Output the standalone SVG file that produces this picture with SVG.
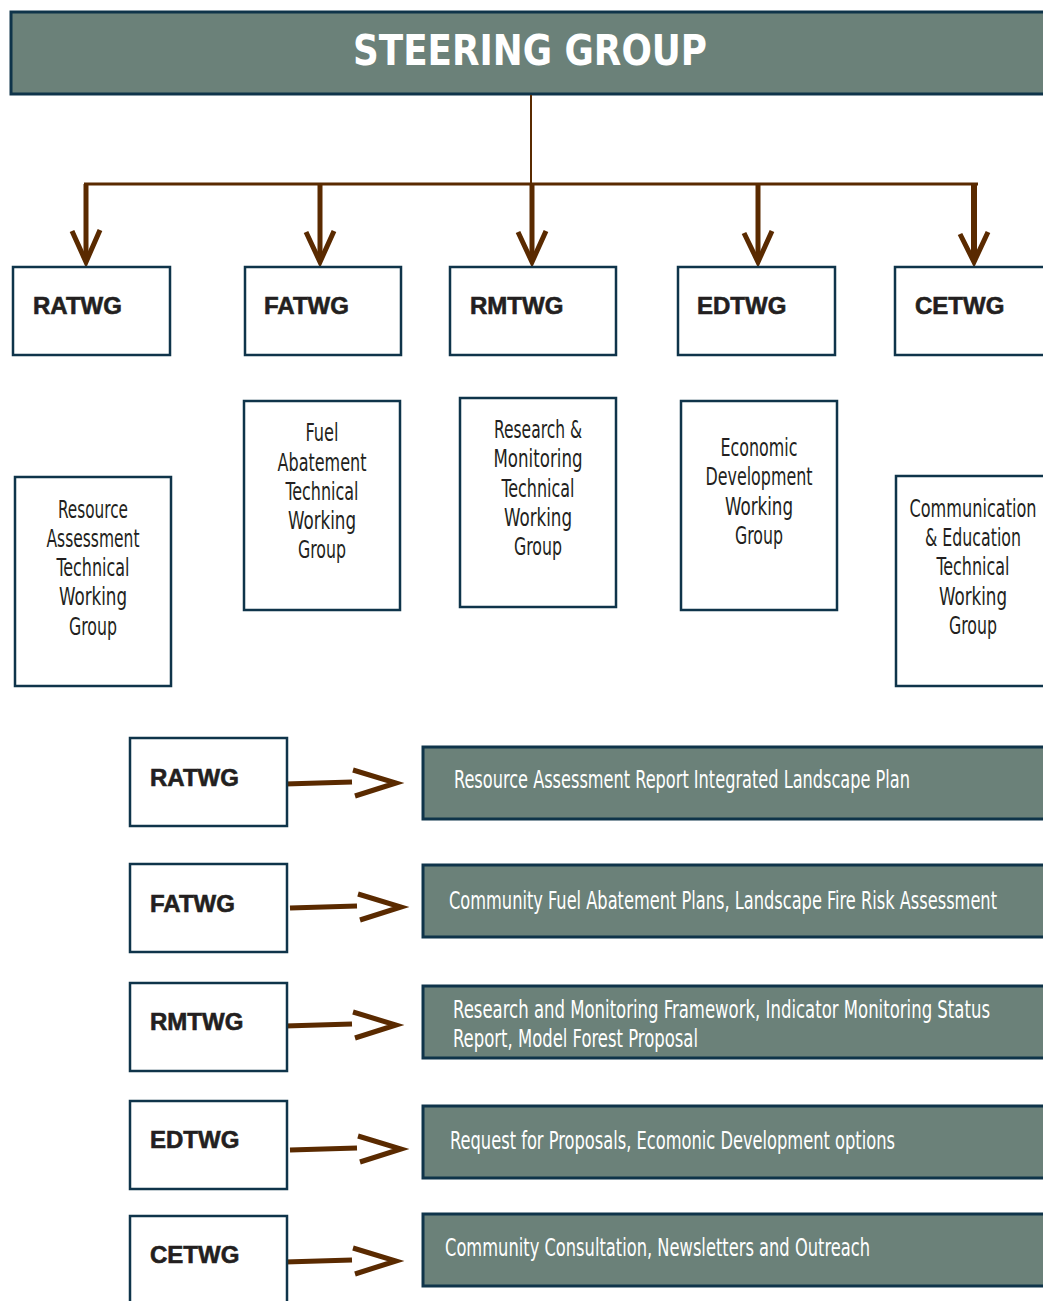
<svg xmlns="http://www.w3.org/2000/svg" width="1043" height="1301" viewBox="0 0 1043 1301">
<style>
.box{fill:#fff;stroke:#0f344a;stroke-width:2.5}
.gbox{fill:#6b8179;stroke:#0f344a;stroke-width:3}
.abbr{font-family:"Liberation Sans",Arial,sans-serif;font-weight:bold;font-size:24px;fill:#231f20;stroke:#231f20;stroke-width:0.6}
.cond{font-family:"Liberation Sans Narrow","DejaVu Sans Condensed","Liberation Sans",sans-serif;font-size:24px;fill:#231f20}
.mid{text-anchor:middle}
.wt{fill:#ffffff}
.conn{fill:none;stroke:#5a2a00;stroke-linecap:butt;stroke-linejoin:miter}
</style>
<rect width="1043" height="1301" fill="#fff"/>
<g id="steering">
<rect class="gbox" x="11" y="12" width="1040" height="82"/>
<text x="530" y="65" text-anchor="middle" font-family="'Liberation Sans Narrow','DejaVu Sans Condensed','Liberation Sans',sans-serif" font-weight="bold" font-size="42" fill="#fff" textLength="354" lengthAdjust="spacingAndGlyphs">STEERING GROUP</text>
</g>
<g id="connectors">
<line class="conn" x1="531" y1="95" x2="531" y2="184" stroke-width="2"/>
<line class="conn" x1="84" y1="184" x2="978" y2="184" stroke-width="3"/>
<g stroke-width="5">
<line class="conn" x1="86" y1="184" x2="86" y2="260"/>
<polyline class="conn" points="72,231 86,262 100,230"/>
<line class="conn" x1="320" y1="184" x2="320" y2="260"/>
<polyline class="conn" points="306,232 320,262 334,231"/>
<line class="conn" x1="532" y1="184" x2="532" y2="260"/>
<polyline class="conn" points="518,232 532,262 546,231"/>
<line class="conn" x1="758" y1="184" x2="758" y2="260"/>
<polyline class="conn" points="744,233 758,262 772,231"/>
<line class="conn" x1="974" y1="184" x2="974" y2="260" stroke-width="6"/>
<polyline class="conn" points="960,234 974,262 988,232"/>
<line class="conn" x1="285" y1="784" x2="352" y2="782"/>
<polyline class="conn" points="353,770 396,783 355,796"/>
<line class="conn" x1="290" y1="908" x2="357" y2="906"/>
<polyline class="conn" points="358,894 401,907 360,920"/>
<line class="conn" x1="285" y1="1026" x2="352" y2="1024"/>
<polyline class="conn" points="353,1012 396,1025 355,1038"/>
<line class="conn" x1="290" y1="1150" x2="357" y2="1148"/>
<polyline class="conn" points="358,1136 401,1149 360,1162"/>
<line class="conn" x1="285" y1="1262" x2="352" y2="1260"/>
<polyline class="conn" points="353,1248 396,1261 355,1274"/>
</g>
</g>
<g id="ratwg-top"><rect class="box" x="13" y="267" width="157" height="88"/><text class="abbr" x="33" y="314">RATWG</text></g>
<g id="fatwg-top"><rect class="box" x="245" y="267" width="156" height="88"/><text class="abbr" x="264" y="314">FATWG</text></g>
<g id="rmtwg-top"><rect class="box" x="450" y="267" width="166" height="88"/><text class="abbr" x="470" y="314">RMTWG</text></g>
<g id="edtwg-top"><rect class="box" x="678" y="267" width="157" height="88"/><text class="abbr" x="697" y="314">EDTWG</text></g>
<g id="cetwg-top"><rect class="box" x="895" y="267" width="160" height="88"/><text class="abbr" x="915" y="314">CETWG</text></g>
<g id="ratwg-desc"><rect class="box" x="15" y="477" width="156" height="209"/>
<text class="cond mid" x="93" y="518" textLength="70" lengthAdjust="spacingAndGlyphs">Resource</text>
<text class="cond mid" x="93" y="547" textLength="93" lengthAdjust="spacingAndGlyphs">Assessment</text>
<text class="cond mid" x="93" y="576" textLength="73" lengthAdjust="spacingAndGlyphs">Technical</text>
<text class="cond mid" x="93" y="605" textLength="68" lengthAdjust="spacingAndGlyphs">Working</text>
<text class="cond mid" x="93" y="635" textLength="48" lengthAdjust="spacingAndGlyphs">Group</text>
</g>
<g id="fatwg-desc"><rect class="box" x="244" y="401" width="156" height="209"/>
<text class="cond mid" x="322" y="441" textLength="33" lengthAdjust="spacingAndGlyphs">Fuel</text>
<text class="cond mid" x="322" y="471" textLength="89" lengthAdjust="spacingAndGlyphs">Abatement</text>
<text class="cond mid" x="322" y="500" textLength="73" lengthAdjust="spacingAndGlyphs">Technical</text>
<text class="cond mid" x="322" y="529" textLength="68" lengthAdjust="spacingAndGlyphs">Working</text>
<text class="cond mid" x="322" y="558" textLength="48" lengthAdjust="spacingAndGlyphs">Group</text>
</g>
<g id="rmtwg-desc"><rect class="box" x="460" y="398" width="156" height="209"/>
<text class="cond mid" x="538" y="438" textLength="88" lengthAdjust="spacingAndGlyphs">Research &amp;</text>
<text class="cond mid" x="538" y="467" textLength="89" lengthAdjust="spacingAndGlyphs">Monitoring</text>
<text class="cond mid" x="538" y="497" textLength="73" lengthAdjust="spacingAndGlyphs">Technical</text>
<text class="cond mid" x="538" y="526" textLength="68" lengthAdjust="spacingAndGlyphs">Working</text>
<text class="cond mid" x="538" y="555" textLength="48" lengthAdjust="spacingAndGlyphs">Group</text>
</g>
<g id="edtwg-desc"><rect class="box" x="681" y="401" width="156" height="209"/>
<text class="cond mid" x="759" y="456" textLength="77" lengthAdjust="spacingAndGlyphs">Economic</text>
<text class="cond mid" x="759" y="485" textLength="107" lengthAdjust="spacingAndGlyphs">Development</text>
<text class="cond mid" x="759" y="515" textLength="68" lengthAdjust="spacingAndGlyphs">Working</text>
<text class="cond mid" x="759" y="544" textLength="48" lengthAdjust="spacingAndGlyphs">Group</text>
</g>
<g id="cetwg-desc"><rect class="box" x="896" y="476" width="160" height="210"/>
<text class="cond mid" x="973" y="517" textLength="127" lengthAdjust="spacingAndGlyphs">Communication</text>
<text class="cond mid" x="973" y="546" textLength="96" lengthAdjust="spacingAndGlyphs">&amp; Education</text>
<text class="cond mid" x="973" y="575" textLength="73" lengthAdjust="spacingAndGlyphs">Technical</text>
<text class="cond mid" x="973" y="605" textLength="68" lengthAdjust="spacingAndGlyphs">Working</text>
<text class="cond mid" x="973" y="634" textLength="48" lengthAdjust="spacingAndGlyphs">Group</text>
</g>
<g id="ratwg-bottom"><rect class="box" x="130" y="738" width="157" height="88"/><text class="abbr" x="150" y="786">RATWG</text></g>
<g id="fatwg-bottom"><rect class="box" x="130" y="864" width="157" height="88"/><text class="abbr" x="150" y="912">FATWG</text></g>
<g id="rmtwg-bottom"><rect class="box" x="130" y="983" width="157" height="88"/><text class="abbr" x="150" y="1030">RMTWG</text></g>
<g id="edtwg-bottom"><rect class="box" x="130" y="1101" width="157" height="88"/><text class="abbr" x="150" y="1148">EDTWG</text></g>
<g id="cetwg-bottom"><rect class="box" x="130" y="1216" width="157" height="95"/><text class="abbr" x="150" y="1263">CETWG</text></g>
<g id="ratwg-output"><rect class="gbox" x="423" y="747" width="630" height="72"/><text class="cond wt" x="454" y="788" textLength="456" lengthAdjust="spacingAndGlyphs">Resource Assessment Report Integrated Landscape Plan</text></g>
<g id="fatwg-output"><rect class="gbox" x="423" y="865" width="630" height="72"/><text class="cond wt" x="449" y="909" textLength="548" lengthAdjust="spacingAndGlyphs">Community Fuel Abatement Plans, Landscape Fire Risk Assessment</text></g>
<g id="rmtwg-output"><rect class="gbox" x="423" y="986" width="630" height="72"/><text class="cond wt" x="453" y="1018" textLength="537" lengthAdjust="spacingAndGlyphs">Research and Monitoring Framework, Indicator Monitoring Status</text><text class="cond wt" x="453" y="1047" textLength="245" lengthAdjust="spacingAndGlyphs">Report, Model Forest Proposal</text></g>
<g id="edtwg-output"><rect class="gbox" x="423" y="1106" width="630" height="72"/><text class="cond wt" x="450" y="1149" textLength="445" lengthAdjust="spacingAndGlyphs">Request for Proposals, Ecomonic Development options</text></g>
<g id="cetwg-output"><rect class="gbox" x="423" y="1214" width="630" height="72"/><text class="cond wt" x="445" y="1256" textLength="425" lengthAdjust="spacingAndGlyphs">Community Consultation, Newsletters and Outreach</text></g>
</svg>
